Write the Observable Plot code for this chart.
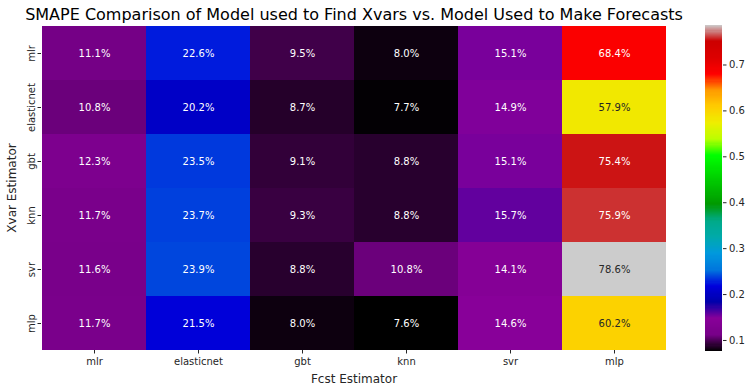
<!DOCTYPE html>
<html>
<head>
<meta charset="utf-8">
<script src="https://cdn.jsdelivr.net/npm/d3@7"></script>
<script src="https://cdn.jsdelivr.net/npm/@observablehq/plot@0.6"></script>
<style>
  html, body { margin: 0; padding: 0; background: #fff; }
  #wrap { position: relative; width: 751px; height: 392px; font-family: "DejaVu Sans", sans-serif; }
  #main, #cbar { position: absolute; top: 0; }
  #main { left: 0; }
  #cbar { left: 705px; }
</style>
</head>
<body>
<div id="wrap"><div id="main"></div><div id="cbar"></div></div>
<script>
const estimators = ["mlr", "elasticnet", "gbt", "knn", "svr", "mlp"];
const xvarRows = ["mlr", "elasticnet", "gbt", "knn", "svr", "mlp"];
// SMAPE per row (Xvar estimator), in column order of estimators (Fcst estimator)
const smape_mlr        = [0.111, 0.226, 0.095, 0.080, 0.151, 0.684];
const smape_elasticnet = [0.108, 0.202, 0.087, 0.077, 0.149, 0.579];
const smape_gbt        = [0.123, 0.235, 0.091, 0.088, 0.151, 0.754];
const smape_knn        = [0.117, 0.237, 0.093, 0.088, 0.157, 0.759];
const smape_svr        = [0.116, 0.239, 0.088, 0.108, 0.141, 0.786];
const smape_mlp        = [0.117, 0.215, 0.080, 0.076, 0.146, 0.602];
const colorbarTicks = [0.1, 0.2, 0.3, 0.4, 0.5, 0.6, 0.7];

const rowsVals = [smape_mlr, smape_elasticnet, smape_gbt, smape_knn, smape_svr, smape_mlp];
const data = [];
xvarRows.forEach((r, i) => estimators.forEach((c, j) => data.push({xvar: r, fcst: c, value: rowsVals[i][j]})));

const vmin = d3.min(data, d => d.value), vmax = d3.max(data, d => d.value);

// matplotlib nipy_spectral colormap stops
const nsStops = d3.range(0, 21).map(i => i * 0.05);
const nsR = [0,0.4667,0.5333,0,0,0,0,0,0,0,0,0,0,0.7333,0.9333,1,1,1,0.8667,0.8,0.8];
const nsG = [0,0,0,0,0,0.4667,0.6,0.6667,0.6667,0.6,0.7333,0.8667,1,1,0.9333,0.8,0.6,0,0,0,0.8];
const nsB = [0,0.5333,0.6,0.6667,0.8667,0.8667,0.8667,0.6667,0.5333,0,0,0,0,0,0,0,0,0,0,0,0.8];
const nsColors = nsStops.map((_, i) => d3.rgb(nsR[i]*255, nsG[i]*255, nsB[i]*255).formatHex());
const colorDomain = nsStops.map(s => vmin + s * (vmax - vmin));
const colorOpts = {type: "linear", domain: colorDomain, range: nsColors, interpolate: "rgb"};

const cmap = d3.scaleLinear().domain(colorDomain).range(nsColors).interpolate(d3.interpolateRgb).clamp(true);
function lum(c) {
  const k = d3.rgb(c);
  const f = v => { v /= 255; return v <= 0.03928 ? v / 12.92 : Math.pow((v + 0.055) / 1.055, 2.4); };
  return 0.2126 * f(k.r) + 0.7152 * f(k.g) + 0.0722 * f(k.b);
}
const textColor = v => lum(cmap(v)) > 0.408 ? "#262626" : "#ffffff";
const fmt = d3.format(".1%");
const title = "SMAPE Comparison of Model used to Find Xvars vs. Model Used to Make Forecasts";

const main = Plot.plot({
  width: 751, height: 392,
  marginLeft: 41, marginRight: 85, marginTop: 25, marginBottom: 42,
  style: {fontFamily: "DejaVu Sans, sans-serif", fontSize: "10px", color: "#262626", background: "white"},
  x: {domain: estimators, padding: 0},
  y: {domain: xvarRows, padding: 0},
  color: colorOpts,
  marks: [
    Plot.cell(data, {x: "fcst", y: "xvar", fill: "value", inset: 0}),
    Plot.text(data, {x: "fcst", y: "xvar", text: d => fmt(d.value), fill: d => textColor(d.value), fontSize: 10}),
    Plot.axisX({tickSize: 3.5, tickPadding: 4, fontSize: 10, label: "Fcst Estimator", labelAnchor: "center", labelArrow: "none", labelOffset: 32}),
    Plot.axisY({tickSize: 3.5, tickPadding: 3, tickRotate: -90, fontSize: 10, label: "Xvar Estimator", labelAnchor: "center", labelArrow: "none", labelOffset: 34}),
    Plot.text([title], {frameAnchor: "top", lineAnchor: "middle", dy: -11, fontSize: 16, fill: "#000"})
  ]
});
main.querySelectorAll("[aria-label='x-axis label'] text, [aria-label='y-axis label'] text").forEach(t => t.setAttribute("font-size", 12));
document.getElementById("main").appendChild(main);

const nSlices = 300;
const slices = d3.range(nSlices).map(i => {
  const a = vmin + (vmax - vmin) * i / nSlices, b = vmin + (vmax - vmin) * (i + 1) / nSlices;
  return {y1: a, y2: b, v: (a + b) / 2};
});
const cbar = Plot.plot({
  width: 46, height: 392,
  marginLeft: 0, marginRight: 29, marginTop: 25, marginBottom: 41,
  style: {fontFamily: "DejaVu Sans, sans-serif", fontSize: "10px", color: "#262626", background: "transparent"},
  x: {domain: [0, 1], axis: null},
  y: {domain: [vmin, vmax]},
  color: colorOpts,
  marks: [
    Plot.rect(slices, {x1: 0, x2: 1, y1: "y1", y2: "y2", fill: "v", shapeRendering: "crispEdges"}),
    Plot.axisY({anchor: "right", ticks: colorbarTicks, tickFormat: d3.format(".1f"), tickSize: 3.5, tickPadding: 3, label: null, fontSize: 10})
  ]
});
document.getElementById("cbar").appendChild(cbar);
</script>
</body>
</html>
